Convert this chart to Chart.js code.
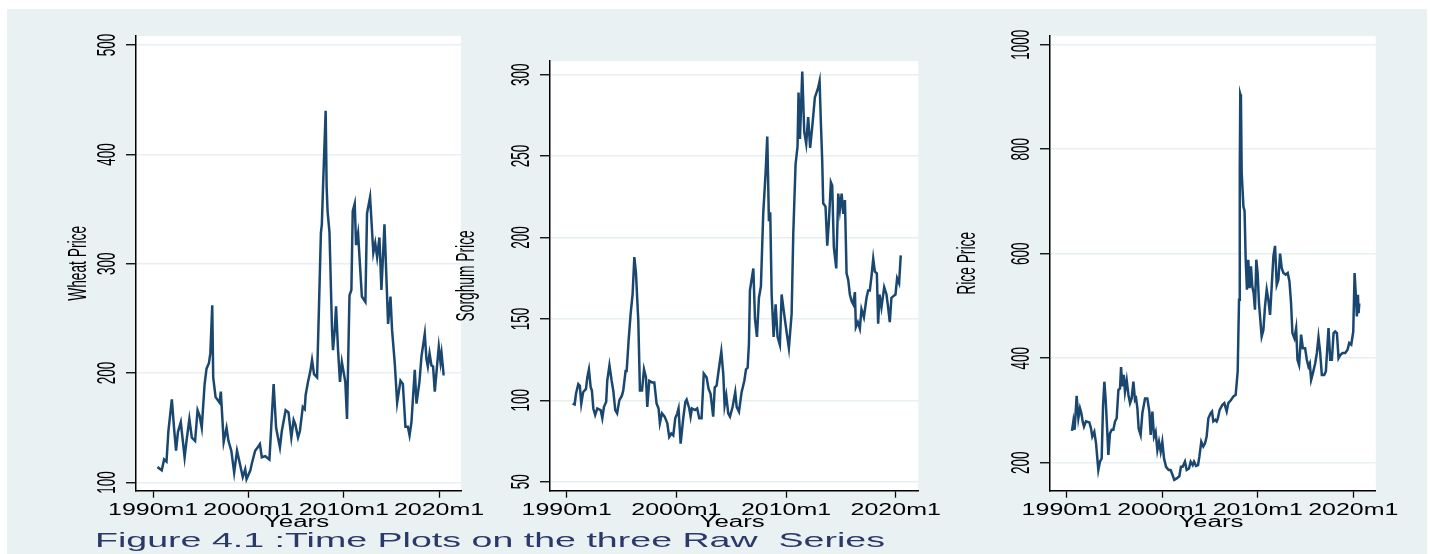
<!DOCTYPE html>
<html>
<head>
<meta charset="utf-8">
<script src="https://cdn.jsdelivr.net/npm/chart.js@4.4.1/dist/chart.umd.min.js"></script>
<style>
  body { margin: 0; background: #fff; }
  #bg { position: absolute; left: 7px; top: 9px; width: 1420px; height: 545px; background: #eaf1f3; }
  .panel { position: absolute; left: 0; top: 0; width: 1430px; height: 554px; }
</style>
</head>
<body>
<div id="bg"></div>
<div class="panel"><canvas id="wheatChart"></canvas></div>
<div class="panel"><canvas id="sorghumChart"></canvas></div>
<div class="panel"><canvas id="riceChart"></canvas></div>
<script>
// tick values / labels
const xTickYears = [1990, 2000, 2010, 2020];
const xTickLabels = ["1990m1", "2000m1", "2010m1", "2020m1"];
const wheatTicks = [100, 200, 300, 400, 500];
const sorghumTicks = [50, 100, 150, 200, 250, 300];
const riceTicks = [200, 400, 600, 800, 1000];

// series (decimal year, price)
const wheatYears = [1990.45, 1990.9, 1991.15, 1991.4, 1991.6, 1991.96, 1992.2, 1992.4, 1992.6, 1992.9,
  1993.3, 1993.5, 1993.8, 1994.06, 1994.4, 1994.66, 1994.87, 1995.1, 1995.4, 1995.6,
  1995.85, 1996.0, 1996.2, 1996.3, 1996.55, 1996.97, 1997.1, 1997.4, 1997.7, 1997.9,
  1998.2, 1998.5, 1998.8, 1999.1, 1999.4, 1999.66, 1999.8, 2000.2, 2000.35, 2000.7,
  2000.96, 2001.2, 2001.4, 2001.76, 2002.2, 2002.64, 2002.9, 2003.3, 2003.5, 2003.9,
  2004.2, 2004.5, 2004.74, 2004.92, 2005.2, 2005.4, 2005.7, 2005.9, 2006.0, 2006.25,
  2006.5, 2006.67, 2006.88, 2007.2, 2007.4, 2007.6, 2007.7, 2007.82, 2008.1, 2008.2,
  2008.3, 2008.5, 2008.77, 2008.87, 2009.05, 2009.19, 2009.4, 2009.6, 2009.8, 2010.16,
  2010.34, 2010.6, 2010.8, 2010.94, 2011.15, 2011.29, 2011.5, 2011.9, 2012.27, 2012.44,
  2012.76, 2013.1, 2013.3, 2013.5, 2013.74, 2013.95, 2014.27, 2014.65, 2014.9, 2015.07,
  2015.35, 2015.6, 2015.95, 2016.2, 2016.47, 2016.72, 2016.9, 2017.1, 2017.45, 2017.63,
  2017.94, 2018.15, 2018.5, 2018.67, 2018.82, 2019.0, 2019.2, 2019.37, 2019.55, 2019.76,
  2019.97, 2020.15, 2020.26, 2020.47, 2020.6];
const wheatPrice = [114, 111, 121, 119, 147, 176, 149, 129, 146, 155,
  123, 138, 158, 141, 138, 166, 161, 150, 190, 204,
  209, 218, 262, 196, 178, 173, 183, 137, 150, 138,
  129, 109, 129, 117, 105, 112, 103, 111, 117, 129,
  132, 135, 123, 124, 121, 190, 150, 132, 147, 166,
  164, 141, 157, 153, 141, 147, 169, 167, 180, 192,
  202, 212, 199, 196, 261, 328, 336, 369, 440, 371,
  348, 329, 239, 221, 239, 261, 221, 192, 210, 192,
  158, 271, 276, 348, 355, 317, 328, 270, 265, 346,
  361, 310, 319, 306, 324, 276, 336, 245, 270, 239,
  209, 173, 193, 190, 151, 151, 143, 155, 203, 172,
  192, 215, 236, 213, 206, 218, 207, 206, 183, 204,
  224, 210, 218, 199, 199];

const sorghumYears = [1990.54, 1990.73, 1990.85, 1991.06, 1991.2, 1991.33, 1991.5, 1991.76, 1991.88, 1992.03,
  1992.19, 1992.3, 1992.43, 1992.6, 1992.79, 1993.1, 1993.25, 1993.4, 1993.6, 1993.7,
  1993.9, 1994.1, 1994.25, 1994.43, 1994.6, 1994.8, 1995.04, 1995.16, 1995.37, 1995.47,
  1995.65, 1995.83, 1996.01, 1996.17, 1996.32, 1996.53, 1996.68, 1996.87, 1997.05, 1997.23,
  1997.35, 1997.53, 1997.78, 1997.99, 1998.2, 1998.38, 1998.5, 1998.69, 1998.93, 1999.17,
  1999.35, 1999.54, 1999.72, 1999.9, 2000.08, 2000.2, 2000.39, 2000.63, 2000.82, 2000.94,
  2001.18, 2001.3, 2001.42, 2001.7, 2001.9, 2002.09, 2002.3, 2002.5, 2002.76, 2002.94,
  2003.12, 2003.36, 2003.5, 2003.67, 2003.85, 2004.1, 2004.28, 2004.4, 2004.55, 2004.73,
  2004.89, 2005.13, 2005.37, 2005.5, 2005.71, 2005.95, 2006.2, 2006.35, 2006.5, 2006.62,
  2006.71, 2007.02, 2007.17, 2007.35, 2007.53, 2007.71, 2007.92, 2008.14, 2008.29, 2008.44,
  2008.56, 2008.69, 2008.87, 2009.05, 2009.23, 2009.44, 2009.6, 2009.81, 2010.05, 2010.26,
  2010.51, 2010.66, 2010.87, 2011.05, 2011.14, 2011.27, 2011.48, 2011.66, 2011.84, 2012.02,
  2012.2, 2012.39, 2012.63, 2012.78, 2012.93, 2013.06, 2013.18, 2013.3, 2013.39, 2013.6,
  2013.76, 2013.91, 2014.09, 2014.21, 2014.36, 2014.58, 2014.76, 2014.91, 2015.07, 2015.22,
  2015.37, 2015.52, 2015.67, 2015.82, 2015.98, 2016.13, 2016.28, 2016.37, 2016.55, 2016.73,
  2016.88, 2017.1, 2017.34, 2017.49, 2017.64, 2017.79, 2017.95, 2018.1, 2018.28, 2018.4,
  2018.52, 2018.7, 2018.95, 2019.16, 2019.31, 2019.46, 2019.61, 2019.79, 2019.98, 2020.13,
  2020.31, 2020.46];
const sorghumPrice = [98, 97.5, 104, 110, 109, 98, 105, 107, 114, 119,
  108, 106, 95, 91, 95, 94, 89, 96, 99, 112,
  121.5, 112, 106, 94, 92, 100, 103, 106, 118, 118,
  137, 153, 165, 188, 178, 149, 106, 106, 119, 114,
  96, 112, 111, 111, 98, 95, 86, 92, 90, 86,
  77.5, 79.6, 78.5, 89, 92, 95, 73.4, 89, 99, 100.4,
  95, 90, 95, 94, 95, 89, 89, 116.4, 114, 107,
  104, 90, 108, 109, 118, 130, 116, 97, 103, 92,
  90, 96, 105, 96, 93, 105, 112, 119, 120, 135,
  167.5, 181, 150, 139, 163, 170, 214.5, 240, 262, 210,
  215.5, 165, 139, 159, 139, 134, 165, 154, 142, 132,
  153, 202, 245, 256, 289, 260.5, 302, 265, 257.5, 274,
  255, 268, 286, 289, 292, 296, 270, 247, 221, 219,
  195, 210, 234, 232, 194, 181, 227, 217, 227, 214.5,
  223, 178, 174, 165, 161, 159, 166.5, 145, 148, 144,
  156, 151, 163, 167.5, 167.5, 176, 187, 179, 178, 147,
  165, 157, 169.5, 165, 157, 148, 163, 164, 165, 175,
  172, 189];

const riceYears = [1990.55, 1990.7, 1990.83, 1991.04, 1991.22, 1991.39, 1991.53, 1991.67, 1991.81, 1992.02,
  1992.37, 1992.54, 1992.68, 1992.89, 1993.07, 1993.31, 1993.48, 1993.66, 1993.8, 1993.94,
  1994.08, 1994.22, 1994.36, 1994.53, 1994.71, 1994.88, 1995.06, 1995.23, 1995.41, 1995.58,
  1995.69, 1995.83, 1995.97, 1996.1, 1996.28, 1996.46, 1996.63, 1996.8, 1996.98, 1997.15,
  1997.26, 1997.4, 1997.53, 1997.74, 1997.92, 1998.2, 1998.44, 1998.65, 1998.79, 1998.97,
  1999.14, 1999.31, 1999.49, 1999.66, 1999.84, 2000.01, 2000.19, 2000.4, 2000.67, 2000.88,
  2001.09, 2001.26, 2001.51, 2001.79, 2001.96, 2002.14, 2002.38, 2002.56, 2002.8, 2002.98,
  2003.19, 2003.33, 2003.54, 2003.75, 2003.89, 2004.09, 2004.3, 2004.48, 2004.65, 2004.83,
  2005.07, 2005.21, 2005.35, 2005.56, 2005.7, 2005.8, 2006.01, 2006.29, 2006.5, 2006.75,
  2006.92, 2007.2, 2007.44, 2007.69, 2007.9, 2008.04, 2008.12, 2008.17, 2008.24, 2008.32,
  2008.5, 2008.62, 2008.74, 2008.87, 2009.01, 2009.15, 2009.29, 2009.43, 2009.57, 2009.71,
  2009.85, 2009.99, 2010.13, 2010.27, 2010.41, 2010.59, 2010.76, 2010.94, 2011.11, 2011.29,
  2011.46, 2011.64, 2011.81, 2011.99, 2012.16, 2012.34, 2012.51, 2012.69, 2012.93, 2013.14,
  2013.32, 2013.49, 2013.63, 2013.84, 2014.02, 2014.16, 2014.33, 2014.54, 2014.72, 2014.96,
  2015.14, 2015.31, 2015.45, 2015.59, 2015.77, 2016.01, 2016.19, 2016.36, 2016.54, 2016.71,
  2016.96, 2017.13, 2017.41, 2017.59, 2017.76, 2017.94, 2018.11, 2018.29, 2018.46, 2018.64,
  2018.88, 2019.16, 2019.4, 2019.58, 2019.79, 2020.0, 2020.14, 2020.28, 2020.38, 2020.49,
  2020.56, 2020.63];
const ricePrice = [261, 280, 263, 328, 285, 304, 295, 279, 269, 279,
  277, 266, 250, 259, 237, 186, 202, 208, 307, 355,
  320, 269, 215, 256, 263, 263, 279, 285, 339, 342,
  383, 346, 368, 336, 358, 330, 314, 323, 355, 320,
  323, 304, 266, 253, 295, 323, 323, 298, 253, 298,
  250, 259, 224, 240, 221, 240, 208, 192, 186, 186,
  176, 167, 170, 174, 192, 192, 202, 186, 189, 202,
  195.5, 202, 194, 195.5, 211.5, 240, 231, 237, 250, 285,
  295, 298, 279, 282, 279, 283, 301, 310.5, 314, 298,
  314, 320, 326.5, 330, 374.5, 512, 760, 905, 900, 755,
  690, 682, 588, 531, 588.5, 534, 576, 537, 525, 493,
  588.5, 563, 505, 473.5, 441.5, 454, 499, 531, 512, 483,
  537, 595, 615, 540.5, 550, 600, 572.5, 563, 560, 563,
  547, 505, 448, 438, 457.5, 397, 387, 445, 419, 419,
  397, 384, 390, 358.5, 371, 390, 410, 440, 410, 368,
  368, 374.5, 457.5, 397, 397, 448, 451, 448, 400, 406,
  410, 410, 416, 429, 426, 451, 563, 518, 480, 521.5,
  486, 505];

const W = 1430, H = 554;
const navy = "#1a476f";
const gridColor = "#e8eff1";
const caption = "Figure 4.1 :Time Plots on the three Raw  Series";

// draw text squeezed/stretched along its reading direction (Stata export look)
function stretchText(ctx, text, x, y, font, sx, vertical, align) {
  ctx.save();
  ctx.translate(x, y);
  if (vertical) ctx.rotate(-Math.PI / 2);
  ctx.scale(sx, 1);
  ctx.font = font;
  ctx.textAlign = align || "center";
  ctx.textBaseline = "alphabetic";
  ctx.fillText(text, 0, 0);
  ctx.restore();
}

const stataLabels = {
  id: "stataLabels",
  beforeDraw(chart) {
    const { ctx, chartArea: a } = chart;
    ctx.save();
    ctx.fillStyle = "#ffffff";
    ctx.fillRect(a.left, a.top, a.right - a.left, a.bottom - a.top);
    ctx.restore();
  },
  afterDraw(chart, args, opts) {
    const { ctx, chartArea: a, scales: { x, y } } = chart;
    ctx.save();
    ctx.fillStyle = "#000";
    y.ticks.forEach(t => {
      stretchText(ctx, String(t.value), a.left - 21.5, y.getPixelForValue(t.value), "26px 'Liberation Sans'", 0.52, true);
    });
    stretchText(ctx, opts.title, a.left - opts.titleGap, (a.top + a.bottom) / 2, "26px 'Liberation Sans'", 0.53, true);
    xTickYears.forEach((yr, i) => {
      stretchText(ctx, xTickLabels[i], x.getPixelForValue(yr), a.bottom + 23.8, "16px 'Liberation Sans'", 1.56);
    });
    stretchText(ctx, "Years", (a.left + a.right) / 2 - 2, a.bottom + 36.3, "16px 'Liberation Sans'", 1.62);
    if (opts.caption) {
      ctx.font = "21px 'Liberation Sans'";
      const sx = 790 / ctx.measureText(caption).width;
      ctx.fillStyle = "#2a3969";
      stretchText(ctx, caption, 95, 546.5, "21px 'Liberation Sans'", sx, false, "left");
    }
    ctx.restore();
  }
};

function makePanel(id, years, prices, yTicks, box, xr, yr, title, titleGap, withCaption) {
  const points = years.map((t, i) => ({ x: t, y: prices[i] }));
  return new Chart(id, {
    type: "line",
    data: {
      datasets: [{
        data: points,
        borderColor: navy,
        borderWidth: 2.5,
        pointRadius: 0,
        tension: 0,
        fill: false
      }]
    },
    options: {
      responsive: true,
      maintainAspectRatio: false,
      animation: false,
      layout: { padding: { left: box[0], top: box[1], right: W - box[2], bottom: H - box[3] } },
      plugins: {
        legend: { display: false },
        tooltip: { enabled: false },
        stataLabels: { title: title, titleGap: titleGap, caption: withCaption }
      },
      scales: {
        x: {
          type: "linear",
          min: xr[0],
          max: xr[1],
          afterBuildTicks: s => { s.ticks = xTickYears.map(v => ({ value: v })); },
          afterFit: s => { s.height = 0; },
          ticks: { display: false },
          grid: { drawOnChartArea: false, tickLength: 7, tickColor: "#000", tickWidth: 1.3 },
          border: { color: "#000", width: 1.5 }
        },
        y: {
          min: yr[0],
          max: yr[1],
          afterBuildTicks: s => { s.ticks = yTicks.map(v => ({ value: v })); },
          afterFit: s => { s.width = 0; },
          ticks: { display: false },
          grid: { color: gridColor, lineWidth: 1.5, tickLength: 10, tickColor: "#000", tickWidth: 1.3 },
          border: { color: "#000", width: 1.5 }
        }
      }
    },
    plugins: [stataLabels]
  });
}

makePanel("wheatChart", wheatYears, wheatPrice, wheatTicks,
  [136, 36, 461, 490.7], [1988.2, 2022.3], [92.4, 508.3], "Wheat Price", 50.5, true);
makePanel("sorghumChart", sorghumYears, sorghumPrice, sorghumTicks,
  [550, 61, 918.3, 490.7], [1988.48, 2022.06], [44.5, 308.4], "Sorghum Price", 76, false);
makePanel("riceChart", riceYears, ricePrice, riceTicks,
  [1050, 36, 1375.7, 490.7], [1988.25, 2022.35], [146.4, 1016.6], "Rice Price", 75.5, false);
</script>
</body>
</html>
